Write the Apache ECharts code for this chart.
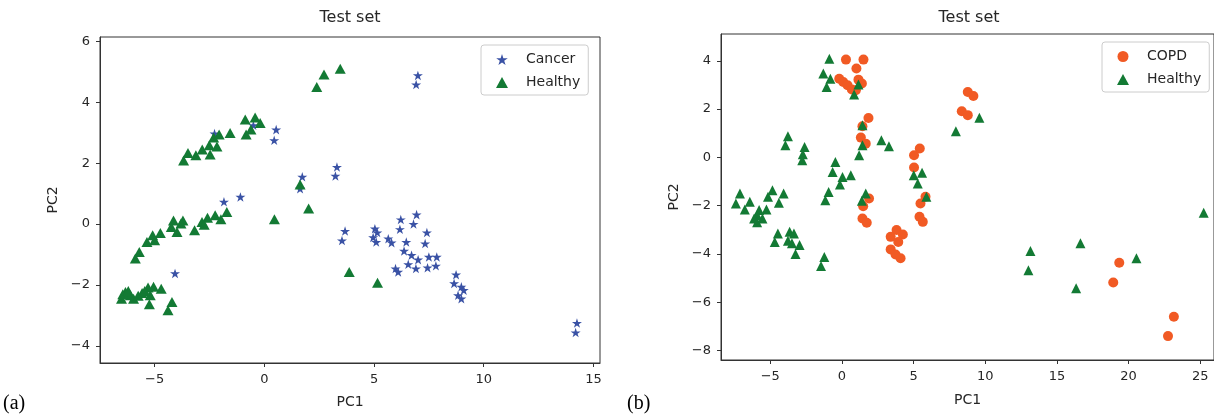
<!DOCTYPE html>
<html><head><meta charset="utf-8">
<script src="https://cdn.jsdelivr.net/npm/echarts@6/dist/echarts.min.js"></script>
<style>html,body{margin:0;padding:0;background:#fff}#c{width:1214px;height:417px}</style>
</head><body><div id="c"></div>
<script>
// ---- data ----
const cancerA = [[-2.27,2.97],[-0.5,3.24],[0.54,3.10],[0.45,2.75],[1.73,1.55],[1.63,1.16],[3.31,1.87],[3.24,1.58],[-1.84,0.73],[-1.09,0.89],[-4.07,-1.62],[3.68,-0.23],[3.54,-0.54],[7.0,4.88],[6.92,4.58],[5.04,-0.15],[5.15,-0.28],[4.96,-0.44],[5.10,-0.59],[5.65,-0.48],[5.80,-0.61],[6.22,0.15],[6.18,-0.17],[6.94,0.31],[6.80,0.0],[7.41,-0.28],[7.33,-0.64],[6.47,-0.59],[6.37,-0.88],[6.71,-1.02],[7.01,-1.17],[6.56,-1.32],[6.91,-1.46],[7.50,-1.08],[7.86,-1.08],[7.44,-1.43],[7.82,-1.37],[5.98,-1.46],[6.10,-1.57],[8.74,-1.66],[8.65,-1.95],[8.98,-2.06],[9.09,-2.17],[8.83,-2.34],[8.98,-2.45],[14.25,-3.25],[14.19,-3.56]];
const healthyA = [[-3.68,2.09],[-3.48,2.33],[-3.12,2.26],[-2.83,2.45],[-2.47,2.28],[-2.51,2.59],[-2.16,2.55],[-2.31,2.84],[-2.06,2.94],[-1.56,2.99],[-0.83,2.94],[-0.61,3.10],[-0.87,3.43],[-0.42,3.50],[-0.19,3.32],[2.39,4.50],[2.72,4.91],[3.46,5.10],[1.63,1.30],[2.02,0.51],[0.46,0.16],[-1.71,0.40],[-1.98,0.16],[-2.24,0.29],[-2.59,0.21],[-2.84,0.07],[-2.74,-0.02],[-3.18,-0.20],[-3.71,0.12],[-3.80,0.02],[-4.14,0.12],[-4.24,-0.10],[-3.98,-0.26],[-4.74,-0.29],[-5.09,-0.37],[-5.0,-0.53],[-5.35,-0.59],[-5.70,-0.92],[-5.88,-1.13],[-6.33,-2.23],[-6.51,-2.45],[-6.11,-2.34],[-5.96,-2.45],[-5.57,-2.26],[-5.30,-2.08],[-5.05,-2.06],[-4.70,-2.12],[-5.2,-2.34],[-5.24,-2.63],[-4.21,-2.56],[-4.39,-2.83],[-6.45,-2.3],[-6.2,-2.2],[-5.75,-2.35],[-5.45,-2.2],[3.87,-1.57],[5.16,-1.93]];
const copdB = [[0.28,4.05],[1.50,4.05],[1.01,3.68],[-0.19,3.26],[0.09,3.12],[0.39,2.99],[0.69,2.81],[1.15,3.22],[1.39,3.06],[0.97,2.78],[1.85,1.63],[1.43,1.29],[1.32,0.82],[1.66,0.57],[5.43,0.37],[5.03,0.09],[5.03,-0.42],[8.78,2.71],[9.17,2.54],[8.36,1.91],[8.78,1.75],[1.89,-1.70],[1.48,-2.02],[1.43,-2.53],[1.73,-2.71],[3.81,-3.01],[4.25,-3.19],[3.40,-3.29],[3.93,-3.50],[3.40,-3.81],[3.74,-4.02],[4.09,-4.18],[5.48,-1.91],[5.83,-1.63],[5.41,-2.46],[5.64,-2.67],[19.35,-4.36],[18.93,-5.18],[23.16,-6.60],[22.75,-7.40]];
const healthyB = [[-0.88,4.09],[-1.30,3.47],[-0.81,3.26],[-1.07,2.92],[0.85,2.60],[1.15,3.02],[1.43,1.33],[1.43,0.50],[1.20,0.09],[2.75,0.71],[3.28,0.46],[-3.77,0.88],[-3.95,0.50],[-2.61,0.43],[-2.73,0.13],[-2.77,-0.12],[-0.46,-0.19],[-0.65,-0.60],[0.04,-0.81],[0.62,-0.74],[-0.14,-1.12],[5.01,-0.74],[5.59,-0.64],[5.29,-1.08],[7.95,1.08],[9.59,1.64],[-7.12,-1.49],[-7.40,-1.91],[-6.43,-1.84],[-6.78,-2.16],[-5.16,-1.63],[-4.85,-1.36],[-4.07,-1.49],[-4.40,-1.88],[-5.27,-2.16],[-5.78,-2.18],[-5.92,-2.39],[-6.13,-2.53],[-5.92,-2.69],[-5.55,-2.53],[-4.47,-3.15],[-4.69,-3.50],[-3.65,-3.08],[-3.35,-3.15],[-3.77,-3.45],[-3.49,-3.56],[-2.96,-3.63],[-3.24,-4.0],[-1.23,-4.12],[-1.46,-4.50],[-1.16,-1.77],[-0.93,-1.43],[1.39,-1.80],[1.66,-1.49],[5.89,-1.63],[25.24,-2.29],[16.64,-3.56],[20.55,-4.18],[13.15,-3.88],[13.01,-4.67],[16.34,-5.42]];
const xTicksA = [-5,0,5,10,15];
const yTicksA = [-4,-2,0,2,4,6];
const xTicksB = [-5,0,5,10,15,20,25];
const yTicksB = [-8,-6,-4,-2,0,2,4];
const titles = ['Test set','Test set'];
const panelLabels = ['(a)','(b)'];

// ---- styling ----
const FONT = 'DejaVu Sans';
const TXT = '#262626';
const AX = '#333';
const STAR = 'path://M0,-10 L2.245,-3.09 L9.511,-3.09 L3.633,1.18 L5.878,8.09 L0,3.82 L-5.878,8.09 L-3.633,1.18 L-9.511,-3.09 L-2.245,-3.09 Z';
const fmt = v => String(v).replace('-', '\u2212');

function xAx(gi, min, max, ticks, gap){
  return {type:'value', gridIndex:gi, min, max, splitLine:{show:false},
    axisLine:{show:true, onZero:false, lineStyle:{color:AX, width:1}},
    axisTick:{show:true, length:4, customValues:ticks, lineStyle:{color:AX}},
    axisLabel:{customValues:ticks, formatter:fmt, color:TXT, fontSize:13, fontFamily:FONT, margin:10},
    name:'PC1', nameLocation:'middle', nameGap:gap,
    nameTextStyle:{color:TXT, fontSize:14, fontFamily:FONT}};
}
function yAx(gi, min, max, ticks){
  return {type:'value', gridIndex:gi, min, max, splitLine:{show:false},
    axisLine:{show:true, onZero:false, lineStyle:{color:AX, width:1}},
    axisTick:{show:true, length:4, customValues:ticks, lineStyle:{color:AX}},
    axisLabel:{customValues:ticks, formatter:fmt, color:TXT, fontSize:13, fontFamily:FONT, margin:10},
    name:'PC2', nameLocation:'middle', nameGap:40,
    nameTextStyle:{color:TXT, fontSize:14, fontFamily:FONT}};
}
function legend(left, top, names){
  return {data:names, orient:'vertical', left, top, itemWidth:12, itemHeight:11, itemGap:6,
    padding:[6,8,4,15], backgroundColor:'rgba(255,255,255,0.8)', borderColor:'#ccc', borderWidth:1, borderRadius:3,
    selectedMode:false,
    textStyle:{color:TXT, fontSize:14, fontFamily:FONT, lineHeight:17, padding:[0,0,0,13]}};
}

const chart = echarts.init(document.getElementById('c'), null, {renderer:'canvas'});
chart.setOption({
  animation:false,
  grid:[
    {left:100, top:37, width:500, height:326, show:true, borderColor:AX, borderWidth:1},
    {left:721, top:34, width:496, height:326, show:true, borderColor:AX, borderWidth:1}
  ],
  xAxis:[xAx(0,-7.49,15.30,xTicksA,32), xAx(1,-8.44,25.96,xTicksB,33)],
  yAxis:[yAx(0,-4.56,6.14,yTicksA), yAx(1,-8.39,5.11,yTicksB)],
  legend:[legend(481,45,['Cancer','Healthy']), legend(1102,42,['COPD','Healthy'])],
  graphic:[
    {type:'text', x:350, y:18, style:{text:titles[0], fill:TXT, font:'16px "DejaVu Sans"', textAlign:'center', textVerticalAlign:'middle'}},
    {type:'text', x:969, y:18, style:{text:titles[1], fill:TXT, font:'16px "DejaVu Sans"', textAlign:'center', textVerticalAlign:'middle'}},
    {type:'text', x:3, y:404, style:{text:panelLabels[0], fill:'#000', font:'20px "Liberation Serif"', textVerticalAlign:'middle'}},
    {type:'text', x:627, y:404, style:{text:panelLabels[1], fill:'#000', font:'20px "Liberation Serif"', textVerticalAlign:'middle'}}
  ],
  series:[
    {name:'Cancer', type:'scatter', xAxisIndex:0, yAxisIndex:0, data:cancerA, symbol:STAR, symbolKeepAspect:true, symbolSize:10,
      itemStyle:{color:'#3a52a5', opacity:1}},
    {name:'Healthy', type:'scatter', xAxisIndex:0, yAxisIndex:0, data:healthyA, symbol:'triangle', symbolSize:[11,10],
      itemStyle:{color:'#137a34', opacity:1}},
    {name:'COPD', type:'scatter', xAxisIndex:1, yAxisIndex:1, data:copdB, symbol:'circle', symbolSize:10,
      itemStyle:{color:'#f15a24', opacity:1}},
    {name:'Healthy', type:'scatter', xAxisIndex:1, yAxisIndex:1, data:healthyB, symbol:'triangle', symbolSize:[10,10],
      itemStyle:{color:'#137a34', opacity:1}}
  ]
});
</script></body></html>
